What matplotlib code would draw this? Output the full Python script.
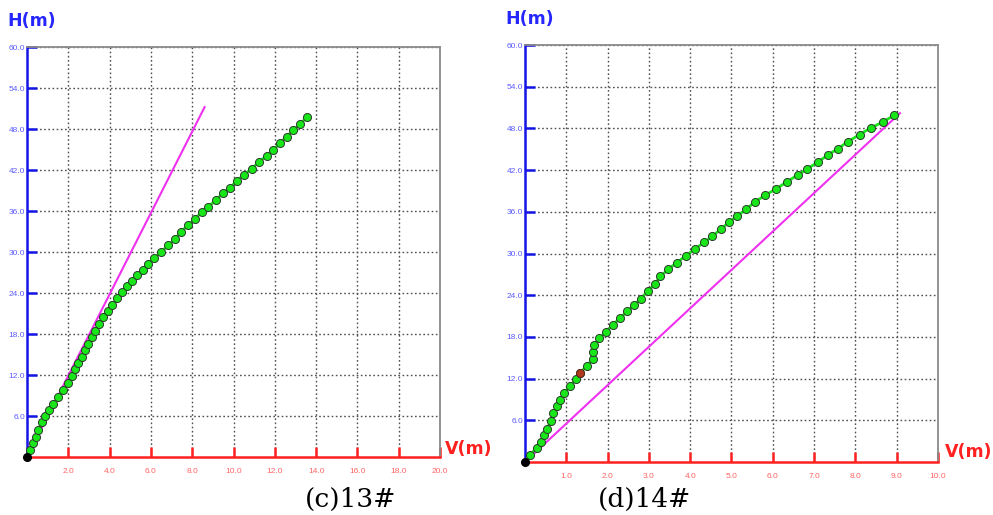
import matplotlib
matplotlib.use("Agg")
import matplotlib.pyplot as plt

# panel (c) 13# : measured curve
V13 = [0, 0.15, 0.31, 0.42, 0.55, 0.71, 0.87, 1.08, 1.28, 1.52, 1.76, 1.97, 2.16, 2.32,
       2.49, 2.65, 2.81, 2.97, 3.13, 3.29, 3.49, 3.70, 3.91, 4.13, 4.37, 4.6, 4.85, 5.1,
       5.34, 5.6, 5.88, 6.17, 6.49, 6.85, 7.17, 7.46, 7.81, 8.14, 8.46, 8.78, 9.15, 9.48,
       9.83, 10.15, 10.51, 10.88, 11.25, 11.6, 11.93, 12.25, 12.57, 12.9, 13.22, 13.58]
H13 = [0, 1.0, 2.05, 3.0, 4.0, 5.1, 5.95, 6.9, 7.8, 8.8, 9.85, 10.8, 11.8, 12.9,
       13.8, 14.7, 15.7, 16.6, 17.6, 18.5, 19.5, 20.5, 21.4, 22.3, 23.2, 24.1, 25.0, 25.8,
       26.6, 27.4, 28.3, 29.1, 30.0, 31.0, 31.9, 33.0, 33.9, 34.9, 35.8, 36.6, 37.6, 38.6,
       39.4, 40.4, 41.3, 42.2, 43.2, 44.1, 45.0, 45.9, 46.9, 47.8, 48.7, 49.8]
LINE13_V = [0, 8.6]
LINE13_H = [0, 51.2]

# panel (d) 14#
V14 = [0, 0.12, 0.28, 0.38, 0.46, 0.54, 0.62, 0.69, 0.77, 0.85, 0.94, 1.09, 1.23, 1.33,
       1.49, 1.64, 1.65, 1.68, 1.8, 1.96, 2.12, 2.3, 2.48, 2.65, 2.8, 2.98, 3.14, 3.28,
       3.46, 3.68, 3.9, 4.12, 4.34, 4.54, 4.74, 4.94, 5.14, 5.36, 5.56, 5.82, 6.08, 6.34,
       6.6, 6.84, 7.1, 7.34, 7.58, 7.82, 8.1, 8.38, 8.66, 8.94]
H14 = [0, 1.0, 2.0, 2.9, 3.9, 4.8, 5.9, 7.0, 8.0, 8.9, 9.9, 10.9, 11.9, 12.8,
       13.8, 14.8, 15.9, 16.8, 17.8, 18.7, 19.7, 20.7, 21.7, 22.6, 23.5, 24.6, 25.6, 26.7,
       27.7, 28.7, 29.7, 30.7, 31.6, 32.5, 33.5, 34.5, 35.4, 36.4, 37.4, 38.4, 39.3, 40.3,
       41.3, 42.2, 43.2, 44.2, 45.1, 46.1, 47.1, 48.1, 48.9, 49.9]
RED14 = 13  # index of the odd red point
LINE14_V = [0, 9.08]
LINE14_H = [0, 50.2]

Y_TICKS = [6, 12, 18, 24, 30, 36, 42, 48, 54, 60]
X13_TICKS = [2, 4, 6, 8, 10, 12, 14, 16, 18, 20]
X14_TICKS = [1, 2, 3, 4, 5, 6, 7, 8, 9, 10]

GREEN = '#19e619'
MAGENTA = '#f030f0'
BLUE = '#1414e6'
RED = '#ff2020'


def style_axes(ax, xmax, xticks):
    """ Old-style engineering plot look """
    ax.set_xlim(0, xmax)
    ax.set_ylim(0, 60)
    ax.set_xticks(xticks)
    ax.set_yticks(Y_TICKS)
    ax.set_xticklabels(['{:.1f}'.format(t) for t in xticks])
    ax.set_yticklabels(['{:.1f}'.format(t) for t in Y_TICKS])
    ax.grid(True, color='#505050', linestyle=(0, (1.2, 1.8)), linewidth=1.0)
    ax.set_axisbelow(True)

    ax.spines['left'].set_color(BLUE)
    ax.spines['left'].set_linewidth(1.8)
    ax.spines['bottom'].set_color(RED)
    ax.spines['bottom'].set_linewidth(1.8)
    for s in ('top', 'right'):
        ax.spines[s].set_color('#8a8a8a')
        ax.spines[s].set_linewidth(1.3)

    ax.tick_params(axis='y', direction='in', length=7, width=1.8, color=BLUE,
                   labelcolor='#5c5cff', labelsize=6, pad=1.5)
    ax.tick_params(axis='x', direction='in', length=7, width=1.8, color=RED,
                   labelcolor='#ff6464', labelsize=6, pad=8)
    for lab in ax.get_xticklabels() + ax.get_yticklabels():
        lab.set_family('Liberation Sans')


def draw_curve(ax, v, h, red_idx=None):
    ax.plot(v, h, color=GREEN, linewidth=2, zorder=3, clip_on=False)
    ax.plot(v[1:], h[1:], linestyle='none', marker='o', markersize=5.8,
            markerfacecolor=GREEN, markeredgecolor='#2a3a2a', markeredgewidth=0.7,
            zorder=4, clip_on=False)
    if red_idx is not None:
        ax.plot([v[red_idx]], [h[red_idx]], linestyle='none', marker='o', markersize=5.8,
                markerfacecolor='#b03a1e', markeredgecolor='#5a2a1a', markeredgewidth=0.7,
                zorder=5)
    ax.plot([v[0]], [h[0]], linestyle='none', marker='o', markersize=5.5,
            markerfacecolor='black', markeredgecolor='black', zorder=6, clip_on=False)


fig = plt.figure(figsize=(9.93, 5.15), dpi=100)

ax1 = fig.add_axes([0.0272, 0.1126, 0.4159, 0.7961])
style_axes(ax1, 20, X13_TICKS)
ax1.plot(LINE13_V, LINE13_H, color=MAGENTA, linewidth=1.5, zorder=2)
draw_curve(ax1, V13, H13)

ax2 = fig.add_axes([0.5287, 0.1029, 0.4159, 0.8097])
style_axes(ax2, 10, X14_TICKS)
ax2.plot(LINE14_V, LINE14_H, color=MAGENTA, linewidth=1.5, zorder=2)
draw_curve(ax2, V14, H14, red_idx=RED14)

# axis names and captions
lab_kw = dict(fontsize=12.5, fontweight='bold', family='DejaVu Sans')
fig.text(7 / 993, 1 - 21 / 515, 'H(m)', color='#2626ff', ha='left', va='center', **lab_kw)
fig.text(505 / 993, 1 - 19 / 515, 'H(m)', color='#2626ff', ha='left', va='center', **lab_kw)
fig.text(445 / 993, 1 - 449 / 515, 'V(m)', color=RED, ha='left', va='center', **lab_kw)
fig.text(945 / 993, 1 - 452 / 515, 'V(m)', color=RED, ha='left', va='center', **lab_kw)

fig.text(351 / 993, 1 - 499 / 515, '(c)13#', fontsize=19, family='DejaVu Serif',
         ha='center', va='center')
fig.text(644 / 993, 1 - 499 / 515, '(d)14#', fontsize=19, family='DejaVu Serif',
         ha='center', va='center')

fig.savefig('out.png', dpi=100)
